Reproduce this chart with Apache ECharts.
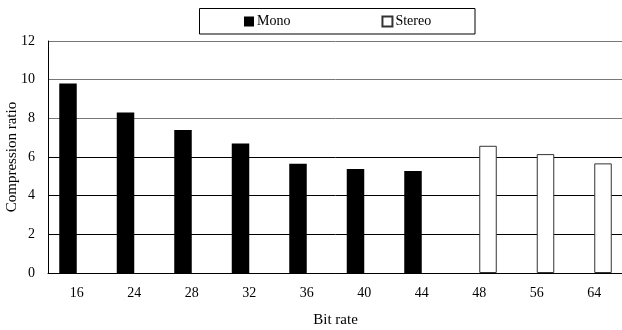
<!DOCTYPE html>
<html>
<head>
<meta charset="utf-8">
<script src="https://cdn.jsdelivr.net/npm/echarts@6/dist/echarts.min.js"></script>
<style>html,body{margin:0;padding:0;background:#fff}#c{width:622px;height:330px}</style>
</head>
<body>
<div id="c"></div>
<script>
const categories = ['16','24','28','32','36','40','44','48','56','64'];
const monoValues = [9.8, 8.3, 7.4, 6.7, 5.65, 5.38, 5.27, '-', '-', '-'];
const stereoValues = ['-', '-', '-', '-', '-', '-', '-', 6.58, 6.15, 5.67];
const seriesNames = ['Mono', 'Stereo'];

const FONT = '"Liberation Serif", "Times New Roman", serif';
const chart = echarts.init(document.getElementById('c'), null, {renderer: 'canvas'});
chart.setOption({
  animation: false,
  backgroundColor: '#fff',
  textStyle: {fontFamily: FONT, color: '#000'},
  graphic: [{
    type: 'rect', z: 0,
    shape: {x: 199.5, y: 8.5, width: 275.5, height: 25.5},
    style: {fill: '#fff', stroke: '#000', lineWidth: 1}
  }],
  legend: {
    left: 244, top: 14.5, itemWidth: 10, itemHeight: 10, itemGap: 91,
    icon: 'rect', padding: 0, z: 5,
    textStyle: {fontFamily: FONT, fontSize: 14, color: '#000', padding: [0, 0, 0, -2]},
    data: seriesNames
  },
  grid: {left: 48, right: -1, top: 41, bottom: 57, containLabel: false, outerBoundsMode: 'none'},
  xAxis: {
    type: 'category', data: categories,
    name: 'Bit rate', nameLocation: 'middle', nameGap: 40,
    nameTextStyle: {fontFamily: FONT, fontSize: 15, color: '#000'},
    axisLine: {lineStyle: {color: '#000', width: 1}},
    axisTick: {inside: true, length: 3, lineStyle: {color: '#000'}},
    axisLabel: {margin: 13, fontFamily: FONT, fontSize: 14, color: '#000'}
  },
  yAxis: {
    type: 'value', min: 0, max: 12, interval: 2,
    name: 'Compression ratio', nameLocation: 'middle', nameGap: 28, nameMoveOverlap: false,
    nameTextStyle: {fontFamily: FONT, fontSize: 15, color: '#000'},
    axisLine: {show: true, lineStyle: {color: '#000', width: 1}},
    axisTick: {show: false},
    axisLabel: {margin: 13, fontFamily: FONT, fontSize: 14, color: '#000'},
    splitLine: {show: true, lineStyle: {color: ['#000','#000','#000','#000','#777','#777','#777'], width: 1}}
  },
  series: [{
    name: seriesNames[0], type: 'bar', data: monoValues,
    barWidth: 17.5, barGap: '0%',
    itemStyle: {color: '#000'}
  }, {
    name: seriesNames[1], type: 'bar', data: stereoValues,
    barWidth: 17.5, barGap: '0%',
    itemStyle: {color: '#fff', borderColor: '#333', borderWidth: 1}
  }]
});
</script>
</body>
</html>
